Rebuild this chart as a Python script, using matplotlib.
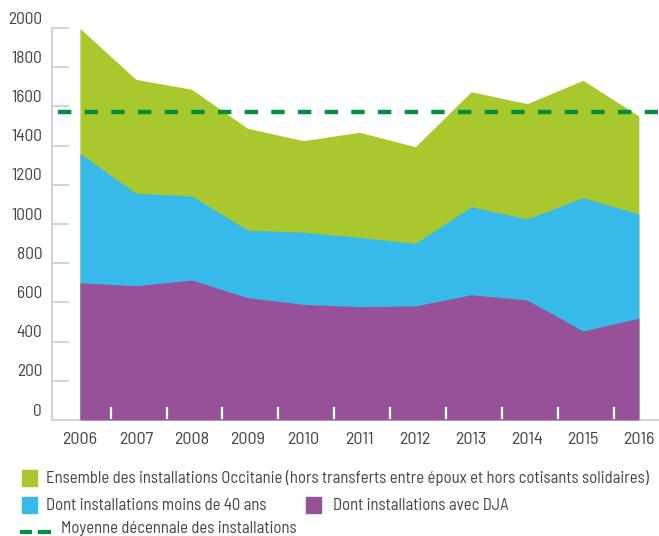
import matplotlib
matplotlib.use("Agg")
import matplotlib.pyplot as plt
from matplotlib.patches import Rectangle
from matplotlib.lines import Line2D
import matplotlib.transforms as mtransforms

plt.rcParams['font.family'] = ['Barlow Semi Condensed', 'DejaVu Sans']

years = [2006, 2007, 2008, 2009, 2010, 2011, 2012, 2013, 2014, 2015, 2016]
total = [1998, 1738, 1687, 1488, 1425, 1468, 1394, 1675, 1614, 1733, 1551]
moins40 = [1360, 1157, 1143, 969, 958, 932, 901, 1088, 1026, 1134, 1051]
dja = [700, 685, 714, 624, 590, 578, 582, 639, 612, 454, 519]
moyenne = 1573
yticks = [0, 200, 400, 600, 800, 1000, 1200, 1400, 1600, 1800, 2000]

labels = ["Ensemble des installations Occitanie (hors transferts entre époux et hors cotisants solidaires)",
          "Dont installations moins de 40 ans",
          "Dont installations avec DJA",
          "Moyenne décennale des installations"]

c_green = '#a9c82d'
c_blue = '#37b9e9'
c_purple = '#965198'
c_dash = '#00913f'
c_text = '#444444'
c_axis = '#d4d4d4'

W, H = 659, 536
fig = plt.figure(figsize=(W/100, H/100), dpi=100)

def fx(x):
    return x / W

def fy(y):
    return 1 - y / H

ax = fig.add_axes([fx(52), fy(420), fx(659) - fx(52), fy(28) - fy(420)])
ax.set_xlim(years[0] - 0.5, years[-1] + 0.36)
ax.set_ylim(0, 2000)

ax.fill_between(years, 0, total, color=c_green, lw=0, zorder=1)
ax.fill_between(years, 0, moins40, color=c_blue, lw=0, zorder=2)
ax.fill_between(years, 0, dja, color=c_purple, lw=0, zorder=3)
ax.plot([years[0] - 0.4, years[-1] + 0.36], [moyenne, moyenne], color=c_dash, lw=3.2,
        dashes=(3, 3), zorder=5, clip_on=False)

for s in ['top', 'right']:
    ax.spines[s].set_visible(False)
ax.spines['left'].set_color(c_axis)
ax.spines['left'].set_linewidth(1.5)
ax.spines['left'].set_bounds(0, 2000)
ax.spines['bottom'].set_color(c_axis)
ax.spines['bottom'].set_linewidth(1.5)

ax.set_yticks(yticks)
ax.tick_params(axis='y', direction='in', length=12, width=1.5, color=c_axis, labelleft=False)
off = mtransforms.ScaledTranslation(-10/100, 9/100, fig.dpi_scale_trans)
for v in yticks:
    ax.text(0, v, str(v), transform=ax.get_yaxis_transform() + off, ha='right', va='center',
            fontsize=12.5, color=c_text)

ax.set_xticks([])
for y in years[:-1]:
    ax.plot([y + 0.55, y + 0.55], [12, 60], color='white', lw=1.6, zorder=6)
for y in years:
    ax.text(y, 0, str(y), transform=ax.transData + mtransforms.ScaledTranslation(0, -20/100, fig.dpi_scale_trans),
            ha='center', va='center', fontsize=13, color=c_text)

fs = 12
fig.add_artist(Rectangle((fx(22), fy(486)), fx(15), fy(470) - fy(486), color=c_green, transform=fig.transFigure))
fig.text(fx(46), fy(478), labels[0], fontsize=fs, color=c_text, va='center', ha='left')
fig.add_artist(Rectangle((fx(22), fy(513)), fx(15), fy(497) - fy(513), color=c_blue, transform=fig.transFigure))
fig.text(fx(46), fy(505), labels[1], fontsize=fs, color=c_text, va='center', ha='left')
fig.add_artist(Rectangle((fx(306), fy(513)), fx(15), fy(497) - fy(513), color=c_purple, transform=fig.transFigure))
fig.text(fx(333), fy(505), labels[2], fontsize=fs, color=c_text, va='center', ha='left')
fig.add_artist(Line2D([fx(22), fx(30)], [fy(532), fy(532)], color=c_dash, lw=3, transform=fig.transFigure))
fig.add_artist(Line2D([fx(40), fx(49)], [fy(532), fy(532)], color=c_dash, lw=3, transform=fig.transFigure))
fig.text(fx(61), fy(528), labels[3], fontsize=fs, color=c_text, va='center', ha='left')

fig.savefig("out.png", dpi=100)
